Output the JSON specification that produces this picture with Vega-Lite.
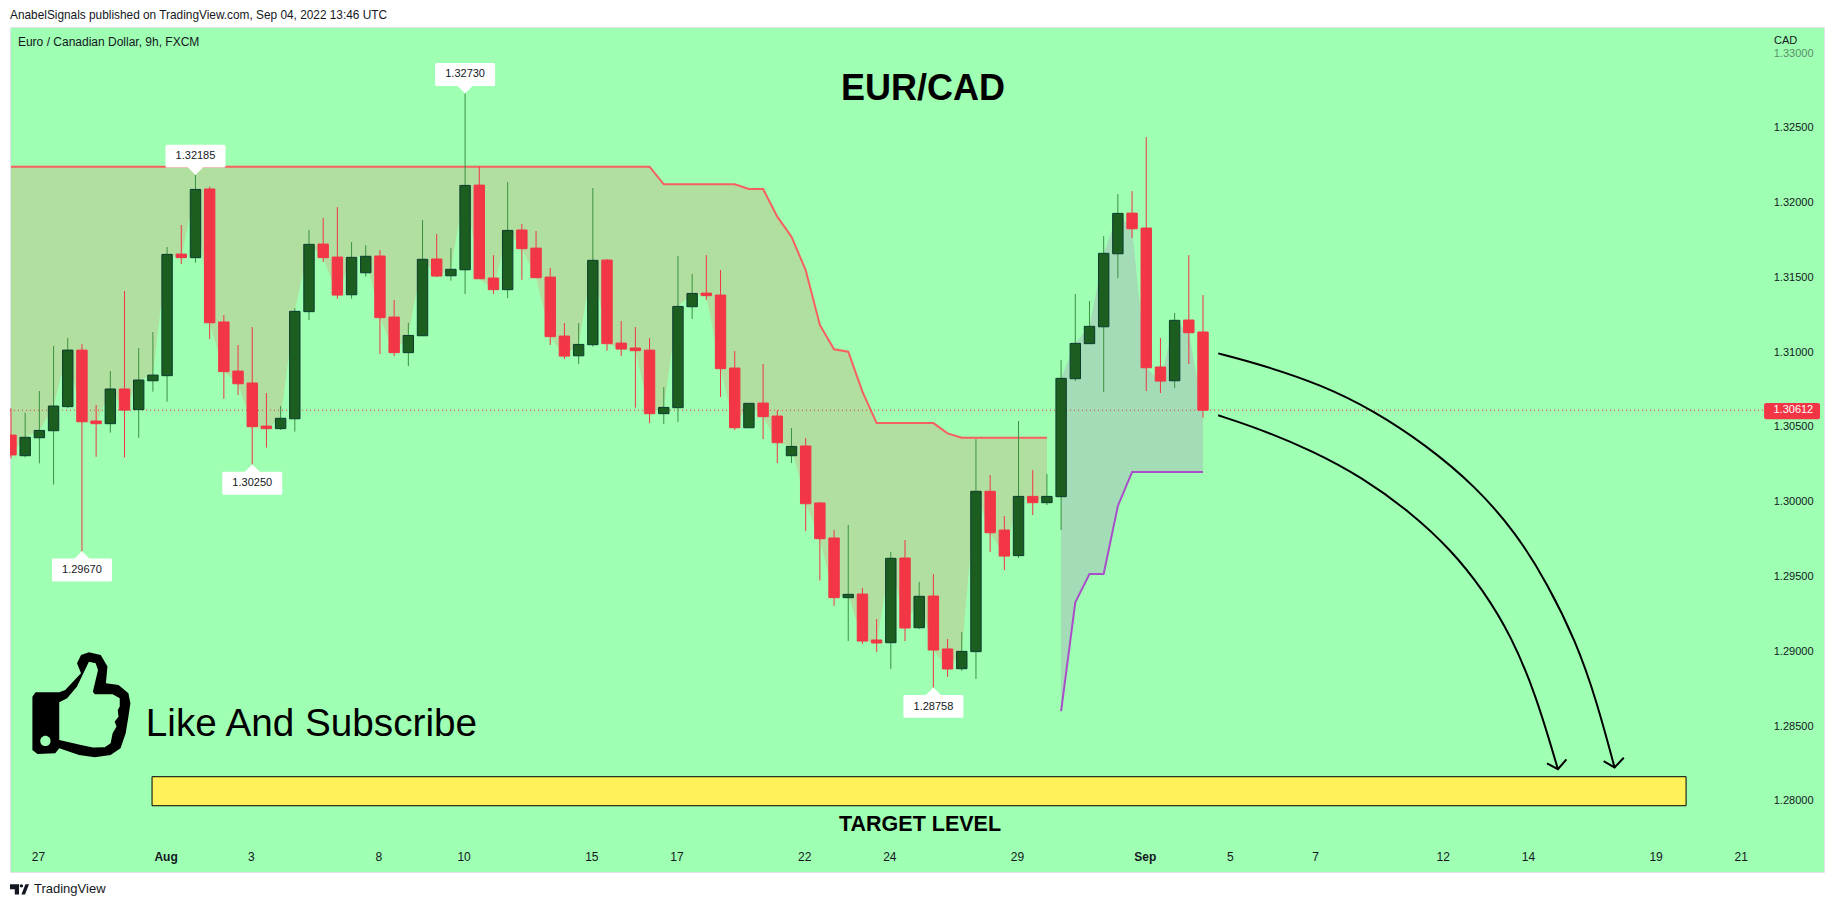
{
  "$schema": "https://vega.github.io/schema/vega-lite/v6.json",
  "autosize": "none",
  "padding": {"left": 10, "top": 27, "right": 10, "bottom": 35},
  "width": 1814,
  "height": 845,
  "background": "#ffffff",
  "title": {
    "text": "AnabelSignals published on TradingView.com, Sep 04, 2022 13:46 UTC",
    "anchor": "start",
    "frame": "group",
    "offset": 5,
    "font": "Liberation Sans",
    "fontSize": 11.85,
    "fontWeight": "normal",
    "color": "#131722"
  },
  "config": {
    "view": {"fill": "#9fffb2", "stroke": "#e0e3eb"},
    "text": {"font": "Liberation Sans", "color": "#131722"}
  },
  "datasets": {
    "candles": [
      {"k":0,"o":1.30446,"h":1.30625,"l":1.3029,"c":1.30313,"dir":"down","upper":1.3224},
      {"k":1,"o":1.30308,"h":1.30596,"l":1.30297,"c":1.30431,"dir":"up","upper":1.3224},
      {"k":2,"o":1.30428,"h":1.3074,"l":1.30257,"c":1.30477,"dir":"up","upper":1.3224},
      {"k":3,"o":1.30475,"h":1.31041,"l":1.30116,"c":1.3064,"dir":"up","upper":1.3224},
      {"k":4,"o":1.30636,"h":1.31095,"l":1.30627,"c":1.31014,"dir":"up","upper":1.3224},
      {"k":5,"o":1.31014,"h":1.31054,"l":1.2967,"c":1.30535,"dir":"down","upper":1.3224},
      {"k":6,"o":1.3054,"h":1.30647,"l":1.30301,"c":1.30522,"dir":"down","upper":1.3224},
      {"k":7,"o":1.30522,"h":1.30874,"l":1.30462,"c":1.30754,"dir":"up","upper":1.3224},
      {"k":8,"o":1.30754,"h":1.31409,"l":1.30297,"c":1.30613,"dir":"down","upper":1.3224},
      {"k":9,"o":1.30616,"h":1.31028,"l":1.30428,"c":1.30814,"dir":"up","upper":1.3224},
      {"k":10,"o":1.30809,"h":1.31135,"l":1.30736,"c":1.30847,"dir":"up","upper":1.3224},
      {"k":11,"o":1.30843,"h":1.31703,"l":1.30669,"c":1.31654,"dir":"up","upper":1.3224},
      {"k":12,"o":1.31656,"h":1.3185,"l":1.31589,"c":1.31632,"dir":"down","upper":1.3224},
      {"k":13,"o":1.31632,"h":1.32185,"l":1.31598,"c":1.32088,"dir":"up","upper":1.3224},
      {"k":14,"o":1.32091,"h":1.32106,"l":1.31088,"c":1.31197,"dir":"down","upper":1.3224},
      {"k":15,"o":1.31202,"h":1.31248,"l":1.30689,"c":1.3087,"dir":"down","upper":1.3224},
      {"k":16,"o":1.30874,"h":1.31048,"l":1.30714,"c":1.30789,"dir":"down","upper":1.3224},
      {"k":17,"o":1.30794,"h":1.31168,"l":1.3025,"c":1.30502,"dir":"down","upper":1.3224},
      {"k":18,"o":1.30506,"h":1.30727,"l":1.30362,"c":1.30489,"dir":"down","upper":1.3224},
      {"k":19,"o":1.30489,"h":1.3064,"l":1.3048,"c":1.30558,"dir":"up","upper":1.3224},
      {"k":20,"o":1.30555,"h":1.31293,"l":1.30469,"c":1.31273,"dir":"up","upper":1.3224},
      {"k":21,"o":1.31271,"h":1.31817,"l":1.31215,"c":1.31721,"dir":"up","upper":1.3224},
      {"k":22,"o":1.31723,"h":1.31897,"l":1.31603,"c":1.31632,"dir":"down","upper":1.3224},
      {"k":23,"o":1.31636,"h":1.3197,"l":1.31358,"c":1.31382,"dir":"down","upper":1.3224},
      {"k":24,"o":1.31384,"h":1.31736,"l":1.31358,"c":1.31634,"dir":"up","upper":1.3224},
      {"k":25,"o":1.31531,"h":1.31716,"l":1.31505,"c":1.31641,"dir":"up","upper":1.3224},
      {"k":26,"o":1.31643,"h":1.31683,"l":1.30988,"c":1.31231,"dir":"down","upper":1.3224},
      {"k":27,"o":1.31235,"h":1.31349,"l":1.30974,"c":1.30997,"dir":"down","upper":1.3224},
      {"k":28,"o":1.30997,"h":1.31197,"l":1.30907,"c":1.31112,"dir":"up","upper":1.3224},
      {"k":29,"o":1.3111,"h":1.31883,"l":1.3111,"c":1.31621,"dir":"up","upper":1.3224},
      {"k":30,"o":1.31623,"h":1.3179,"l":1.31502,"c":1.31509,"dir":"down","upper":1.3224},
      {"k":31,"o":1.31511,"h":1.31696,"l":1.31478,"c":1.31554,"dir":"up","upper":1.3224},
      {"k":32,"o":1.31551,"h":1.3273,"l":1.31389,"c":1.32115,"dir":"up","upper":1.3224},
      {"k":33,"o":1.32117,"h":1.3224,"l":1.31491,"c":1.31491,"dir":"down","upper":1.3224},
      {"k":34,"o":1.31496,"h":1.31649,"l":1.31389,"c":1.31418,"dir":"down","upper":1.3224},
      {"k":35,"o":1.31418,"h":1.32137,"l":1.31362,"c":1.31814,"dir":"up","upper":1.3224},
      {"k":36,"o":1.31817,"h":1.31857,"l":1.31484,"c":1.31692,"dir":"down","upper":1.3224},
      {"k":37,"o":1.31696,"h":1.3181,"l":1.31498,"c":1.31498,"dir":"down","upper":1.3224},
      {"k":38,"o":1.31502,"h":1.31563,"l":1.31048,"c":1.31104,"dir":"down","upper":1.3224},
      {"k":39,"o":1.31108,"h":1.31195,"l":1.30954,"c":1.30974,"dir":"down","upper":1.3224},
      {"k":40,"o":1.30976,"h":1.31195,"l":1.30921,"c":1.31052,"dir":"up","upper":1.3224},
      {"k":41,"o":1.3105,"h":1.32097,"l":1.31037,"c":1.31614,"dir":"up","upper":1.3224},
      {"k":42,"o":1.31616,"h":1.31623,"l":1.3101,"c":1.31057,"dir":"down","upper":1.3224},
      {"k":43,"o":1.31061,"h":1.31208,"l":1.30974,"c":1.31021,"dir":"down","upper":1.3224},
      {"k":44,"o":1.31028,"h":1.31168,"l":1.30629,"c":1.3101,"dir":"down","upper":1.3224},
      {"k":45,"o":1.31014,"h":1.31095,"l":1.30526,"c":1.30589,"dir":"down","upper":1.3224},
      {"k":46,"o":1.30589,"h":1.30767,"l":1.3052,"c":1.30631,"dir":"up","upper":1.32122},
      {"k":47,"o":1.30629,"h":1.31643,"l":1.30533,"c":1.31306,"dir":"up","upper":1.32122},
      {"k":48,"o":1.31304,"h":1.31522,"l":1.31222,"c":1.31393,"dir":"up","upper":1.32122},
      {"k":49,"o":1.31395,"h":1.31649,"l":1.31349,"c":1.31378,"dir":"down","upper":1.32122},
      {"k":50,"o":1.31382,"h":1.31549,"l":1.307,"c":1.3089,"dir":"down","upper":1.32122},
      {"k":51,"o":1.30894,"h":1.31008,"l":1.3048,"c":1.30495,"dir":"down","upper":1.32122},
      {"k":52,"o":1.30495,"h":1.30658,"l":1.30495,"c":1.30658,"dir":"up","upper":1.32091},
      {"k":53,"o":1.3066,"h":1.30921,"l":1.30419,"c":1.30569,"dir":"down","upper":1.32091},
      {"k":54,"o":1.30573,"h":1.30613,"l":1.30259,"c":1.30395,"dir":"down","upper":1.31906},
      {"k":55,"o":1.30308,"h":1.30493,"l":1.30259,"c":1.3037,"dir":"up","upper":1.31772},
      {"k":56,"o":1.30373,"h":1.30426,"l":1.29805,"c":1.29987,"dir":"down","upper":1.31549},
      {"k":57,"o":1.29992,"h":1.29998,"l":1.29473,"c":1.29753,"dir":"down","upper":1.31182},
      {"k":58,"o":1.29758,"h":1.29811,"l":1.29305,"c":1.29359,"dir":"down","upper":1.31019},
      {"k":59,"o":1.29359,"h":1.29845,"l":1.29069,"c":1.29381,"dir":"up","upper":1.31003},
      {"k":60,"o":1.29383,"h":1.29424,"l":1.29049,"c":1.29069,"dir":"down","upper":1.30736},
      {"k":61,"o":1.29076,"h":1.29216,"l":1.28996,"c":1.29056,"dir":"down","upper":1.30526},
      {"k":62,"o":1.29058,"h":1.29664,"l":1.28882,"c":1.29622,"dir":"up","upper":1.30526},
      {"k":63,"o":1.29624,"h":1.29744,"l":1.29069,"c":1.29156,"dir":"down","upper":1.30526},
      {"k":64,"o":1.29158,"h":1.29464,"l":1.29149,"c":1.29368,"dir":"up","upper":1.30526},
      {"k":65,"o":1.2937,"h":1.29517,"l":1.28758,"c":1.29009,"dir":"down","upper":1.30526},
      {"k":66,"o":1.29016,"h":1.29083,"l":1.28829,"c":1.28882,"dir":"down","upper":1.30457},
      {"k":67,"o":1.28884,"h":1.29129,"l":1.28869,"c":1.29,"dir":"up","upper":1.30428},
      {"k":68,"o":1.28998,"h":1.30419,"l":1.28815,"c":1.3007,"dir":"up","upper":1.30428},
      {"k":69,"o":1.3007,"h":1.30179,"l":1.29664,"c":1.29793,"dir":"down","upper":1.30428},
      {"k":70,"o":1.29811,"h":1.29905,"l":1.29544,"c":1.29637,"dir":"down","upper":1.30428},
      {"k":71,"o":1.2964,"h":1.3054,"l":1.29624,"c":1.30036,"dir":"up","upper":1.30428},
      {"k":72,"o":1.30036,"h":1.30212,"l":1.29911,"c":1.29994,"dir":"down","upper":1.30428},
      {"k":73,"o":1.29994,"h":1.30186,"l":1.29978,"c":1.30036,"dir":"up","upper":1.30428},
      {"k":74,"o":1.30034,"h":1.30948,"l":1.29811,"c":1.30825,"dir":"up","lower":1.28601},
      {"k":75,"o":1.30823,"h":1.31389,"l":1.30807,"c":1.31059,"dir":"up","lower":1.29328},
      {"k":76,"o":1.31057,"h":1.31342,"l":1.31057,"c":1.31173,"dir":"up","lower":1.29517},
      {"k":77,"o":1.3117,"h":1.31776,"l":1.30734,"c":1.31661,"dir":"up","lower":1.29517},
      {"k":78,"o":1.31658,"h":1.32057,"l":1.31496,"c":1.31928,"dir":"up","lower":1.29972},
      {"k":79,"o":1.3193,"h":1.32077,"l":1.31763,"c":1.31825,"dir":"down","lower":1.30199},
      {"k":80,"o":1.3183,"h":1.32438,"l":1.3074,"c":1.30896,"dir":"down","lower":1.30199},
      {"k":81,"o":1.30901,"h":1.31095,"l":1.30727,"c":1.30807,"dir":"down","lower":1.30199},
      {"k":82,"o":1.30809,"h":1.31262,"l":1.3076,"c":1.31213,"dir":"up","lower":1.30199},
      {"k":83,"o":1.31215,"h":1.31649,"l":1.30921,"c":1.3113,"dir":"down","lower":1.30199},
      {"k":84,"o":1.31135,"h":1.31382,"l":1.30562,"c":1.30612,"dir":"down","lower":1.30199}
    ],
    "arrows": [
      {"k":85.07,"price":1.30992,"part":"upper"},
      {"k":88.06,"price":1.30918,"part":"upper"},
      {"k":92.34,"price":1.30783,"part":"upper"},
      {"k":96.04,"price":1.30609,"part":"upper"},
      {"k":99.75,"price":1.30377,"part":"upper"},
      {"k":103.17,"price":1.30106,"part":"upper"},
      {"k":106.02,"price":1.29797,"part":"upper"},
      {"k":108.3,"price":1.29449,"part":"upper"},
      {"k":110.29,"price":1.29063,"part":"upper"},
      {"k":111.72,"price":1.28676,"part":"upper"},
      {"k":113,"price":1.28224,"part":"upper"},
      {"k":85.07,"price":1.30578,"part":"lower"},
      {"k":88.06,"price":1.30485,"part":"lower"},
      {"k":91.77,"price":1.30338,"part":"lower"},
      {"k":95.19,"price":1.30164,"part":"lower"},
      {"k":98.61,"price":1.29932,"part":"lower"},
      {"k":101.46,"price":1.29681,"part":"lower"},
      {"k":103.74,"price":1.29411,"part":"lower"},
      {"k":105.73,"price":1.29101,"part":"lower"},
      {"k":107.44,"price":1.28715,"part":"lower"},
      {"k":109.01,"price":1.28212,"part":"lower"}
    ],
    "arrowheads": [
      {"k":112.23,"price":1.28266,"part":"upper"},
      {"k":113,"price":1.28224,"part":"upper"},
      {"k":113.65,"price":1.28289,"part":"upper"},
      {"k":108.24,"price":1.28251,"part":"lower"},
      {"k":109.01,"price":1.28212,"part":"lower"},
      {"k":109.61,"price":1.28278,"part":"lower"}
    ]
  },
  "encoding": {
    "x": {
      "field": "k",
      "type": "quantitative",
      "scale": {"domain": [-0.07, 127.76], "nice": false, "zero": false, "padding": 0},
      "axis": {
        "title": null,
        "grid": false,
        "domain": false,
        "ticks": false,
        "tickSize": 0,
        "values": [2, 11, 17, 26, 32, 41, 47, 56, 62, 71, 80, 86, 92, 101, 107, 116, 122],
        "labelExpr": "{'2':'27','11':'Aug','17':'3','26':'8','32':'10','41':'15','47':'17','56':'22','62':'24','71':'29','80':'Sep','86':'5','92':'7','101':'12','107':'14','116':'19','122':'21'}[''+datum.value]",
        "labelFont": "Liberation Sans",
        "labelFontSize": 12,
        "labelFontWeight": {"condition": {"test": "datum.value==11||datum.value==80", "value": "bold"}, "value": "normal"},
        "labelColor": "#131722",
        "labelPadding": -21,
        "labelOffset": -1.5,
        "labelFlush": false,
        "labelOverlap": false
      }
    }
  },
  "layer": [
    {
      "data": {"name": "candles"},
      "transform": [{"filter": "isValid(datum.upper)"}],
      "mark": {"type": "area", "color": "#b0dfa0", "opacity": 1, "interpolate": "linear"},
      "encoding": {
        "y": {
          "field": "upper",
          "type": "quantitative",
          "title": null,
          "scale": {"domain": [1.27525, 1.33174], "nice": false, "zero": false},
          "axis": {
            "title": null,
            "orient": "right",
            "grid": false,
            "domain": false,
            "ticks": false,
            "tickSize": 0,
            "values": [1.28, 1.285, 1.29, 1.295, 1.3, 1.305, 1.31, 1.315, 1.32, 1.325, 1.33],
            "format": ".5f",
            "labelFont": "Liberation Sans",
            "labelFontSize": 11,
            "labelColor": "#131722",
            "labelOpacity": {"condition": {"test": "datum.value>1.329", "value": 0.5}, "value": 1},
            "labelAlign": "right",
            "labelPadding": -11,
            "labelOverlap": false,
            "labelBound": false
          }
        },
        "y2": {"field": "c"}
      }
    },
    {
      "data": {"name": "candles"},
      "transform": [{"filter": "isValid(datum.lower)"}],
      "mark": {"type": "area", "color": "#a3dcb7", "opacity": 1, "interpolate": "linear"},
      "encoding": {
        "y": {"field": "lower", "type": "quantitative", "title": null},
        "y2": {"field": "c"}
      }
    },
    {
      "data": {"name": "candles"},
      "transform": [{"filter": "isValid(datum.upper)"}],
      "mark": {"type": "line", "color": "#f76060", "strokeWidth": 2, "clip": true},
      "encoding": {"y": {"field": "upper", "type": "quantitative", "title": null}}
    },
    {
      "data": {"name": "candles"},
      "transform": [{"filter": "isValid(datum.lower)"}],
      "mark": {"type": "line", "color": "#a94fc9", "strokeWidth": 2},
      "encoding": {"y": {"field": "lower", "type": "quantitative", "title": null}}
    },
    {
      "data": {"values": [{"k": -0.07, "k2": 123.54, "last": 1.30612}]},
      "mark": {"type": "rule", "color": "#f23645", "strokeWidth": 1, "strokeDash": [1, 3]},
      "encoding": {
        "x2": {"field": "k2"},
        "y": {"field": "last", "type": "quantitative", "title": null}
      }
    },
    {
      "data": {"name": "candles"},
      "mark": {"type": "rule", "strokeWidth": 1, "clip": true},
      "encoding": {
        "y": {"field": "l", "type": "quantitative", "title": null},
        "y2": {"field": "h"},
        "color": {
          "field": "dir",
          "type": "nominal",
          "legend": null,
          "scale": {"domain": ["up", "down"], "range": ["#3c9142", "#f23645"]}
        }
      }
    },
    {
      "data": {"name": "candles"},
      "mark": {"type": "bar", "size": 10.4, "strokeWidth": 1, "clip": true},
      "encoding": {
        "y": {"field": "o", "type": "quantitative", "title": null},
        "y2": {"field": "c"},
        "fill": {
          "field": "dir",
          "type": "nominal",
          "legend": null,
          "scale": {"domain": ["up", "down"], "range": ["#1b5e20", "#f23645"]}
        },
        "stroke": {
          "field": "dir",
          "type": "nominal",
          "legend": null,
          "scale": {"domain": ["up", "down"], "range": ["#0c3b2e", "#f23645"]}
        }
      }
    },
    {
      "data": {"values": [{"k": 9.94, "k2": 118.04, "top": 1.28162, "bottom": 1.27968}]},
      "mark": {"type": "rect", "fill": "#fff159", "stroke": "#000000", "strokeWidth": 1},
      "encoding": {
        "x2": {"field": "k2"},
        "y": {"field": "top", "type": "quantitative", "title": null},
        "y2": {"field": "bottom"}
      }
    },
    {
      "data": {"name": "arrows"},
      "mark": {"type": "line", "color": "#000000", "strokeWidth": 2, "interpolate": "basis"},
      "encoding": {
        "y": {"field": "price", "type": "quantitative", "title": null},
        "detail": {"field": "part"}
      }
    },
    {
      "data": {"name": "arrowheads"},
      "mark": {"type": "line", "color": "#000000", "strokeWidth": 2},
      "encoding": {
        "y": {"field": "price", "type": "quantitative", "title": null},
        "detail": {"field": "part"}
      }
    },
    {
      "data": {"values": [{"k": 13, "price": 1.32185}, {"k": 32, "price": 1.3273}]},
      "mark": {
        "type": "point",
        "filled": true,
        "opacity": 1,
        "color": "#ffffff",
        "size": 3600,
        "shape": "M0 0L-.25 -.244H-.95Q-1 -.244 -1 -.29V-.96Q-1 -1.01 -.95 -1.01H.95Q1 -1.01 1 -.96V-.29Q1 -.244 .95 -.244H.25Z"
      },
      "encoding": {"y": {"field": "price", "type": "quantitative", "title": null}}
    },
    {
      "data": {"values": [{"k": 5, "price": 1.2967}, {"k": 17, "price": 1.3025}, {"k": 65, "price": 1.28758}]},
      "mark": {
        "type": "point",
        "filled": true,
        "opacity": 1,
        "color": "#ffffff",
        "size": 3600,
        "shape": "M0 0L-.25 .244H-.95Q-1 .244 -1 .29V.96Q-1 1.01 -.95 1.01H.95Q1 1.01 1 .96V.29Q1 .244 .95 .244H.25Z"
      },
      "encoding": {"y": {"field": "price", "type": "quantitative", "title": null}}
    },
    {
      "data": {"values": [{"k": 13, "price": 1.32185, "label": "1.32185"}, {"k": 32, "price": 1.3273, "label": "1.32730"}]},
      "mark": {"type": "text", "fontSize": 11, "dy": -19, "baseline": "middle"},
      "encoding": {
        "y": {"field": "price", "type": "quantitative", "title": null},
        "text": {"field": "label"}
      }
    },
    {
      "data": {"values": [{"k": 5, "price": 1.2967, "label": "1.29670"}, {"k": 17, "price": 1.3025, "label": "1.30250"}, {"k": 65, "price": 1.28758, "label": "1.28758"}]},
      "mark": {"type": "text", "fontSize": 11, "dy": 19, "baseline": "middle"},
      "encoding": {
        "y": {"field": "price", "type": "quantitative", "title": null},
        "text": {"field": "label"}
      }
    },
    {
      "data": {"values": [{"k": 123.54, "k2": 127.48, "top": 1.3066, "bottom": 1.30551}]},
      "mark": {"type": "rect", "fill": "#f23645", "cornerRadius": 2},
      "encoding": {
        "x2": {"field": "k2"},
        "y": {"field": "top", "type": "quantitative", "title": null},
        "y2": {"field": "bottom"}
      }
    },
    {
      "data": {"values": [{"k": 125.6, "price": 1.30612, "label": "1.30612"}]},
      "mark": {"type": "text", "fontSize": 11, "color": "#ffffff", "baseline": "middle"},
      "encoding": {
        "y": {"field": "price", "type": "quantitative", "title": null},
        "text": {"field": "label"}
      }
    },
    {
      "data": {"values": [{"k": 64.27, "price": 1.3276, "label": "EUR/CAD"}]},
      "mark": {"type": "text", "fontSize": 36, "fontWeight": "bold", "color": "#000000", "baseline": "middle"},
      "encoding": {
        "y": {"field": "price", "type": "quantitative", "title": null},
        "text": {"field": "label"}
      }
    },
    {
      "data": {"values": [{"k": 64.06, "price": 1.27839, "label": "TARGET LEVEL"}]},
      "mark": {"type": "text", "fontSize": 21.5, "fontWeight": "bold", "color": "#000000", "baseline": "middle"},
      "encoding": {
        "y": {"field": "price", "type": "quantitative", "title": null},
        "text": {"field": "label"}
      }
    },
    {
      "data": {"values": [{"k": 9.5, "price": 1.28434, "label": "Like And Subscribe"}]},
      "mark": {"type": "text", "fontSize": 38.7, "color": "#000000", "align": "left", "baseline": "alphabetic"},
      "encoding": {
        "y": {"field": "price", "type": "quantitative", "title": null},
        "text": {"field": "label"}
      }
    },
    {
      "data": {"values": [{"k": 4.93, "price": 1.28645}]},
      "mark": {
        "type": "point",
        "filled": true,
        "opacity": 1,
        "color": "#000000",
        "size": 11025,
        "shape": "M-.925 -.149L-.865 -.232L-.413 -.232L-.3 -.276L.001 -.594L-.075 -.784L.001 -.943L.151 -.994L.377 -.943L.505 -.721L.475 -.403L.716 -.371L.904 -.213L.942 -.022L.904 .232L.852 .549L.754 .835L.565 .962L.264 1.006L-.037 .962L-.413 .835L-.489 .93L-.828 .943L-.925 .867ZM-.413 -.041L-.413 .676L.001 .772L.227 .822L.453 .816L.565 .74L.603 .549L.678 .422L.641 .327L.716 .232L.701 .105L.739 .041L.739 -.117L.603 -.194L.264 -.194L.227 -.244L.325 -.657L.279 -.784L.151 -.816L.076 -.657L-.075 -.34L-.263 -.117ZM-.775 .695A.098 .098 0 1 0 -.579 .695A.098 .098 0 1 0 -.775 .695Z"
      },
      "encoding": {"y": {"field": "price", "type": "quantitative", "title": null}}
    },
    {
      "data": {"values": [{"k": 0.49, "price": 1.33076, "label": "Euro / Canadian Dollar, 9h, FXCM"}]},
      "mark": {"type": "text", "fontSize": 12, "align": "left", "baseline": "middle"},
      "encoding": {
        "y": {"field": "price", "type": "quantitative", "title": null},
        "text": {"field": "label"}
      }
    },
    {
      "data": {"values": [{"k": 124.24, "price": 1.33083, "label": "CAD"}]},
      "mark": {"type": "text", "fontSize": 11, "align": "left", "baseline": "middle"},
      "encoding": {
        "y": {"field": "price", "type": "quantitative", "title": null},
        "text": {"field": "label"}
      }
    },
    {
      "data": {"values": [{"k": 1.62, "price": 1.27409, "label": "TradingView"}]},
      "mark": {"type": "text", "fontSize": 13, "align": "left", "baseline": "middle"},
      "encoding": {
        "y": {"field": "price", "type": "quantitative", "title": null},
        "text": {"field": "label"}
      }
    },
    {
      "data": {"values": [{"k": 0.6, "price": 1.27409}]},
      "mark": {
        "type": "point",
        "filled": true,
        "opacity": 1,
        "color": "#131722",
        "size": 361,
        "shape": "M-1 -.55H-.05V.55H-.5V0H-1ZM.02 -.37A.18 .18 0 1 1 .38 -.37A.18 .18 0 1 1 .02 -.37ZM.2 .55L.62 -.55H1L.58 .55Z"
      },
      "encoding": {"y": {"field": "price", "type": "quantitative", "title": null}}
    }
  ]
}
